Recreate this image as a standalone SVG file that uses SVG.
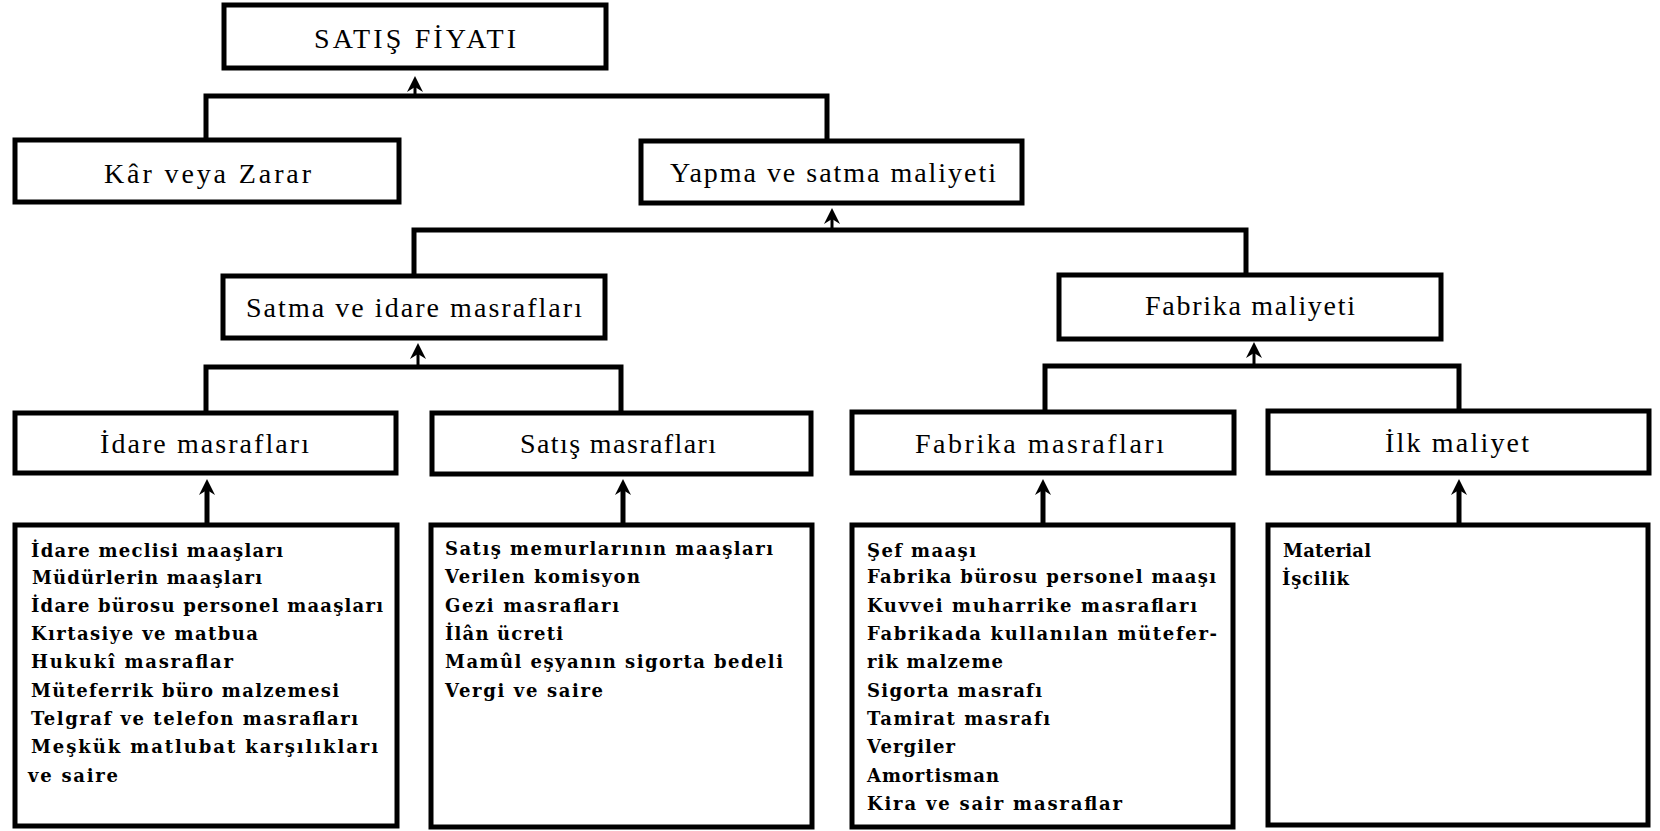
<svg xmlns="http://www.w3.org/2000/svg" width="1660" height="831" viewBox="0 0 1660 831">
<style>
.box{fill:#fff;stroke:#000;stroke-width:5}
.con{fill:none;stroke:#000;stroke-width:5}
.stem{stroke:#000;stroke-width:3;marker-end:url(#ah)}
.stem2{stroke:#000;stroke-width:5;marker-end:url(#ah)}
.lbl{font-family:"Liberation Serif","Times New Roman",serif;font-size:28px;fill:#000}
.lst{font-family:"DejaVu Serif","Liberation Serif",serif;font-weight:bold;font-size:18px;fill:#000}
</style>
<defs>
<marker id="ah" viewBox="-17 -9 19 18" refX="-8" refY="0" markerWidth="19" markerHeight="18" markerUnits="userSpaceOnUse" orient="auto">
<path d="M0,0 L-16,-8 L-11,0 L-16,8 Z" fill="#000"/>
</marker>
</defs>
<rect width="1660" height="831" fill="#fff"/>
<g id="connectors">
<path class="con" d="M206,140 V96 H827 V141"/>
<line class="stem" x1="415" y1="96" x2="415" y2="84"/>
<path class="con" d="M414,276 V230 H1246 V275"/>
<line class="stem" x1="832" y1="230" x2="832" y2="216"/>
<path class="con" d="M206,413 V367 H621 V413"/>
<line class="stem" x1="418" y1="367" x2="418" y2="351"/>
<path class="con" d="M1045,412 V366 H1459 V411"/>
<line class="stem" x1="1254" y1="366" x2="1254" y2="350"/>
<line class="stem2" x1="207" y1="525" x2="207" y2="487"/>
<line class="stem2" x1="623" y1="525" x2="623" y2="487"/>
<line class="stem2" x1="1043" y1="525" x2="1043" y2="487"/>
<line class="stem2" x1="1459" y1="525" x2="1459" y2="487"/>
</g>
<g id="satis-fiyati">
<rect class="box" x="224" y="5" width="382" height="63"/>
<text class="lbl" x="314" y="48" textLength="202" lengthAdjust="spacing">SATIŞ FİYATI</text>
</g>
<g id="kar-zarar">
<rect class="box" x="15" y="140" width="384" height="62"/>
<text class="lbl" x="104" y="183" textLength="207" lengthAdjust="spacing">Kâr veya Zarar</text>
</g>
<g id="yapma-satma">
<rect class="box" x="641" y="141" width="381" height="62"/>
<text class="lbl" x="670" y="182" textLength="326" lengthAdjust="spacing">Yapma ve satma maliyeti</text>
</g>
<g id="satma-idare">
<rect class="box" x="223" y="276" width="382" height="62"/>
<text class="lbl" x="246" y="317" textLength="336" lengthAdjust="spacing">Satma ve idare masrafları</text>
</g>
<g id="fabrika-maliyeti">
<rect class="box" x="1059" y="275" width="382" height="64"/>
<text class="lbl" x="1145" y="315" textLength="210" lengthAdjust="spacing">Fabrika maliyeti</text>
</g>
<g id="idare-masraflari">
<rect class="box" x="15" y="413" width="381" height="60"/>
<text class="lbl" x="100" y="453" textLength="209" lengthAdjust="spacing">İdare masrafları</text>
</g>
<g id="satis-masraflari">
<rect class="box" x="432" y="413" width="379" height="61"/>
<text class="lbl" x="520" y="453" textLength="196" lengthAdjust="spacing">Satış masrafları</text>
</g>
<g id="fabrika-masraflari">
<rect class="box" x="852" y="412" width="382" height="61"/>
<text class="lbl" x="915" y="453" textLength="249" lengthAdjust="spacing">Fabrika masrafları</text>
</g>
<g id="ilk-maliyet">
<rect class="box" x="1268" y="411" width="381" height="62"/>
<text class="lbl" x="1385" y="452" textLength="144" lengthAdjust="spacing">İlk maliyet</text>
</g>
<g id="idare-list">
<rect class="box" x="15" y="525" width="382" height="301"/>
<text class="lst" x="31" y="557" textLength="252" lengthAdjust="spacing">İdare meclisi maaşları</text>
<text class="lst" x="32" y="584" textLength="230" lengthAdjust="spacing">Müdürlerin maaşları</text>
<text class="lst" x="31" y="612" textLength="352" lengthAdjust="spacing">İdare bürosu personel maaşları</text>
<text class="lst" x="31" y="640" textLength="227" lengthAdjust="spacing">Kırtasiye ve matbua</text>
<text class="lst" x="31" y="668" textLength="202" lengthAdjust="spacing">Hukukî masraflar</text>
<text class="lst" x="31" y="697" textLength="308" lengthAdjust="spacing">Müteferrik büro malzemesi</text>
<text class="lst" x="31" y="725" textLength="327" lengthAdjust="spacing">Telgraf ve telefon masrafları</text>
<text class="lst" x="31" y="753" textLength="347" lengthAdjust="spacing">Meşkük matlubat karşılıkları</text>
<text class="lst" x="28" y="782" textLength="90" lengthAdjust="spacing">ve saire</text>
</g>
<g id="satis-list">
<rect class="box" x="431" y="525" width="381" height="302"/>
<text class="lst" x="445" y="555" textLength="328" lengthAdjust="spacing">Satış memurlarının maaşları</text>
<text class="lst" x="445" y="583" textLength="195" lengthAdjust="spacing">Verilen komisyon</text>
<text class="lst" x="445" y="612" textLength="174" lengthAdjust="spacing">Gezi masrafları</text>
<text class="lst" x="445" y="640" textLength="118" lengthAdjust="spacing">İlân ücreti</text>
<text class="lst" x="445" y="668" textLength="338" lengthAdjust="spacing">Mamûl eşyanın sigorta bedeli</text>
<text class="lst" x="445" y="697" textLength="158" lengthAdjust="spacing">Vergi ve saire</text>
</g>
<g id="fabrika-list">
<rect class="box" x="852" y="525" width="381" height="302"/>
<text class="lst" x="867" y="557" textLength="109" lengthAdjust="spacing">Şef maaşı</text>
<text class="lst" x="867" y="583" textLength="349" lengthAdjust="spacing">Fabrika bürosu personel maaşı</text>
<text class="lst" x="867" y="612" textLength="330" lengthAdjust="spacing">Kuvvei muharrike masrafları</text>
<text class="lst" x="867" y="640" textLength="350" lengthAdjust="spacing">Fabrikada kullanılan mütefer-</text>
<text class="lst" x="867" y="668" textLength="136" lengthAdjust="spacing">rik malzeme</text>
<text class="lst" x="867" y="697" textLength="175" lengthAdjust="spacing">Sigorta masrafı</text>
<text class="lst" x="867" y="725" textLength="183" lengthAdjust="spacing">Tamirat masrafı</text>
<text class="lst" x="867" y="753" textLength="88" lengthAdjust="spacing">Vergiler</text>
<text class="lst" x="867" y="782" textLength="132" lengthAdjust="spacing">Amortisman</text>
<text class="lst" x="867" y="810" textLength="255" lengthAdjust="spacing">Kira ve sair masraflar</text>
</g>
<g id="ilk-list">
<rect class="box" x="1268" y="525" width="380" height="300"/>
<text class="lst" x="1283" y="557" textLength="88" lengthAdjust="spacing">Material</text>
<text class="lst" x="1282" y="585" textLength="67" lengthAdjust="spacing">İşcilik</text>
</g>
</svg>
